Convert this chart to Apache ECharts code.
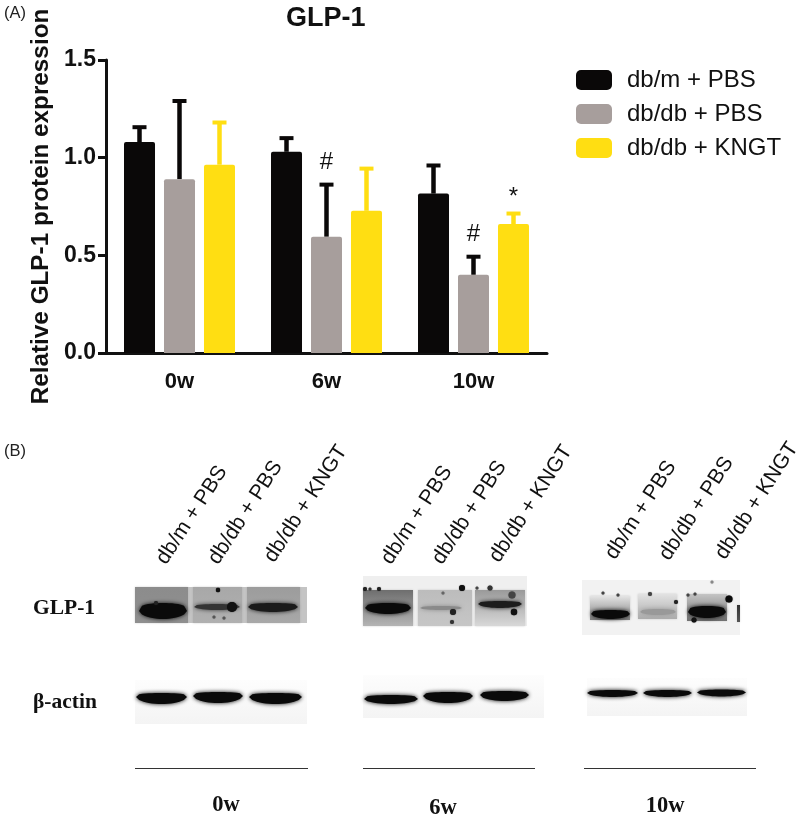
<!DOCTYPE html>
<html>
<head>
<meta charset="utf-8">
<title>GLP-1</title>
<script src="https://cdn.jsdelivr.net/npm/echarts@6/dist/echarts.min.js"></script>
<style>
  html, body { margin: 0; background: #fff; }
  #chart { width: 800px; height: 821px; }
</style>
</head>
<body>
<div id="chart"></div>
<script>
const weeks = ['0w', '6w', '10w']
const groupNames = ['db/m + PBS', 'db/db + PBS', 'db/db + KNGT']
const yTicks = [0, 0.5, 1, 1.5]

const mPbs = [1.08, 1.03, 0.816]
const dbPbs = [0.89, 0.595, 0.40]
const dbKngt = [0.964, 0.728, 0.66]

const mPbsTop = [1.156, 1.10, 0.96]
const dbPbsTop = [1.29, 0.862, 0.493]
const dbKngtTop = [1.18, 0.944, 0.714]

const mPbsMark = ['', '', '']
const dbPbsMark = ['', '#', '#']
const dbKngtMark = ['', '', '*']

const blotRows = ['GLP-1', 'β-actin']

const BLACK = '#0a0808'
const GRAY = '#a79e9c'
const YELLOW = '#ffde12'
const SANS = '"Liberation Sans", Arial, sans-serif'
const SERIF = '"Liberation Serif", "Times New Roman", serif'

// 柱子之间的像素偏移
const BAR_STEP = 40

function barSeries(name, values, color) {
  return {
    name: name,
    type: 'bar',
    data: values,
    barWidth: 31,
    barGap: '29%',
    itemStyle: { color: color, borderRadius: [2, 2, 0, 0] }
  }
}

const barsOf = [mPbs, dbPbs, dbKngt]

function errorSeries(groupIndex, values, color, marks) {
  return {
    type: 'custom',
    data: values.map((v, i) => [i, v]),
    clip: false,
    z: 1,
    renderItem(params, api) {
      const p = api.coord([api.value(0), api.value(1)])
      const x = p[0] + (groupIndex - 1) * BAR_STEP
      const base = api.coord([api.value(0), barsOf[groupIndex][params.dataIndex]])[1]
      const children = [
        { type: 'line', shape: { x1: x, y1: base, x2: x, y2: p[1] }, style: { stroke: color, lineWidth: 4.5 } },
        { type: 'line', shape: { x1: x - 7, y1: p[1], x2: x + 7, y2: p[1] }, style: { stroke: color, lineWidth: 4 } }
      ]
      const mark = marks[params.dataIndex]
      if (mark) {
        children.push({
          type: 'text',
          style: {
            text: mark, x: x, y: p[1] - (mark === '#' ? 22 : 16), fill: '#111',
            font: '24px ' + SANS, textAlign: 'center', textVerticalAlign: 'middle'
          }
        })
      }
      return { type: 'group', children: children }
    }
  }
}

// 下半部分: 印迹图，按面板摆放
const blotPanels = [
  {
    week: '0w', weekX: 226, weekY: 805, lineX: [135, 308],
    labelAt: [[170, 568], [222, 568], [278, 566]],
    glp: {
      back: [135, 587, 172, 36, '#c4c4c4'],
      lanes: [
        [135, 188, 587, 623, '#8c8c8c', '#8f8f8f'],
        [193, 242, 587, 623, '#a8a8a8', '#b0b0b0'],
        [247, 300, 587, 623, '#9c9c9c', '#a8a8a8']
      ],
      bands: [[139, 187, 611, 8, 8, '#0a0a0a'], [194, 240, 607, 3, 3, '#333'], [248, 298, 607, 4, 5, '#1a1a1a']],
      dots: [[218, 590, 2.2, '#111'], [232, 607, 5, '#111'], [156, 603, 2, '#222'], [214, 617, 1.5, '#555'], [224, 618, 1.5, '#555']]
    },
    actin: {
      back: [135, 680, 172, 44],
      bands: [[136, 187, 697, 4, 7], [193, 243, 696, 4, 7], [249, 302, 697, 4, 7]]
    }
  },
  {
    week: '6w', weekX: 443, weekY: 808, lineX: [363, 535],
    labelAt: [[395, 568], [446, 568], [503, 566]],
    glp: {
      back: [363, 576, 164, 50, '#efefef'],
      lanes: [
        [363, 413, 590, 626, '#6e6e6e', '#b4b4b4'],
        [418, 472, 590, 626, '#bcbcbc', '#c6c6c6'],
        [475, 525, 590, 626, '#9a9a9a', '#d8d8d8']
      ],
      bands: [[365, 411, 608, 5, 6, '#0a0a0a'], [420, 462, 608, 2, 2, '#8a8a8a'], [478, 522, 604, 3, 4, '#1c1c1c']],
      dots: [
        [365, 589, 2, '#222'], [370, 589, 1.5, '#333'], [379, 589, 2, '#222'], [443, 593, 1.5, '#666'],
        [462, 588, 3, '#111'], [453, 612, 3, '#222'], [452, 622, 2, '#333'], [490, 588, 2.5, '#333'],
        [477, 588, 1.5, '#444'], [514, 612, 3.2, '#111'], [512, 595, 3.5, '#444']
      ]
    },
    actin: {
      back: [363, 675, 181, 43],
      bands: [[364, 418, 699, 4, 5], [423, 473, 696, 4, 7], [480, 529, 695, 4, 6]]
    }
  },
  {
    week: '10w', weekX: 665, weekY: 806, lineX: [584, 756],
    labelAt: [[619, 563], [673, 564], [729, 563]],
    glp: {
      back: [582, 580, 158, 55, '#f2f2f2'],
      lanes: [
        [590, 630, 596, 620, '#e4e4e4', '#808080'],
        [638, 677, 594, 619, '#e2e2e2', '#acacac'],
        [687, 727, 594, 621, '#c4c4c4', '#707070'],
        [737, 740, 605, 622, '#333', '#555']
      ],
      bands: [[591, 630, 614, 4, 5, '#0a0a0a'], [640, 676, 612, 3, 3, '#999'], [688, 726, 612, 6, 6, '#0a0a0a']],
      dots: [
        [603, 593, 1.5, '#444'], [618, 595, 1.5, '#444'], [650, 594, 2, '#444'], [676, 602, 2, '#222'],
        [688, 595, 1.5, '#444'], [695, 594, 1.5, '#444'], [729, 599, 3.5, '#0a0a0a'], [694, 620, 2.5, '#111'],
        [712, 582, 1.5, '#888']
      ]
    },
    actin: {
      back: [587, 678, 160, 38],
      bands: [[587, 638, 693, 3, 4], [643, 692, 693, 3, 4], [697, 746, 692.5, 3, 4]]
    }
  }
]

// 条带: 中间厚两头尖，上下厚度分开
function bandShape(x0, x1, yc, hTop, hBot, fill) {
  const points = []
  const n = 16
  for (let i = 0; i <= n; i++) {
    const t = i / n
    points.push([x0 + (x1 - x0) * t, yc - hTop * Math.pow(Math.sin(Math.PI * t), 0.25)])
  }
  for (let i = n - 1; i > 0; i--) {
    const t = i / n
    points.push([x0 + (x1 - x0) * t, yc + hBot * Math.pow(Math.sin(Math.PI * t), 0.5)])
  }
  return {
    type: 'polygon', silent: true,
    shape: { points: points },
    style: { fill: fill, shadowBlur: 4, shadowColor: fill }
  }
}

function vGradient(top, bottom) {
  return {
    type: 'linear', x: 0, y: 0, x2: 0, y2: 1,
    colorStops: [{ offset: 0, color: top }, { offset: 1, color: bottom }]
  }
}

function blotGraphics() {
  const out = []
  blotPanels.forEach((panel) => {
    const g = panel.glp
    out.push({
      type: 'rect', silent: true,
      shape: { x: g.back[0], y: g.back[1], width: g.back[2], height: g.back[3] },
      style: { fill: g.back[4] }
    })
    g.lanes.forEach((l) => {
      out.push({
        type: 'rect', silent: true,
        shape: { x: l[0], y: l[2], width: l[1] - l[0], height: l[3] - l[2] },
        style: { fill: vGradient(l[4], l[5]), shadowBlur: 2, shadowColor: 'rgba(140,140,140,0.4)' }
      })
    })
    g.bands.forEach((b) => out.push(bandShape(b[0], b[1], b[2], b[3], b[4], b[5])))
    g.dots.forEach((d) => {
      out.push({
        type: 'circle', silent: true,
        shape: { cx: d[0], cy: d[1], r: d[2] },
        style: { fill: d[3], shadowBlur: 1, shadowColor: d[3] }
      })
    })
    // β-actin
    const a = panel.actin
    out.push({
      type: 'rect', silent: true,
      shape: { x: a.back[0], y: a.back[1], width: a.back[2], height: a.back[3] },
      style: { fill: vGradient('#fdfdfd', '#f4f4f4') }
    })
    a.bands.forEach((b) => out.push(bandShape(b[0], b[1], b[2], b[3], b[4], '#0a0a0a')))
    // 分隔线和时间
    out.push({
      type: 'line', silent: true,
      shape: { x1: panel.lineX[0], y1: 768.5, x2: panel.lineX[1], y2: 768.5 },
      style: { stroke: '#333', lineWidth: 1 }
    })
    out.push({
      type: 'text', silent: true, x: panel.weekX, y: panel.weekY,
      style: {
        text: panel.week, fill: '#111', font: 'bold 22.5px ' + SERIF,
        textAlign: 'center', textVerticalAlign: 'middle'
      }
    })
    // 斜标签
    groupNames.forEach((name, i) => {
      out.push({
        type: 'text', silent: true,
        x: panel.labelAt[i][0], y: panel.labelAt[i][1], rotation: 57 * Math.PI / 180,
        style: {
          text: name, fill: '#111', font: '21px ' + SANS,
          textAlign: 'left', textVerticalAlign: 'bottom'
        }
      })
    })
  })
  blotRows.forEach((name, i) => {
    out.push({
      type: 'text', silent: true, x: 33, y: i === 0 ? 608 : 702,
      style: {
        text: name, fill: '#111', font: 'bold 21.5px ' + SERIF,
        textAlign: 'left', textVerticalAlign: 'middle'
      }
    })
  })
  ;[['(A)', 13], ['(B)', 451]].forEach((t) => {
    out.push({
      type: 'text', silent: true, x: 4, y: t[1],
      style: {
        text: t[0], fill: '#222', font: '16.5px ' + SANS,
        textAlign: 'left', textVerticalAlign: 'middle'
      }
    })
  })
  return out
}

const chart = echarts.init(document.getElementById('chart'), null, { renderer: 'canvas' })

const option = {
  animation: false,
  backgroundColor: '#fff',
  title: {
    text: 'GLP-1',
    left: 281,
    top: 0,
    textStyle: { fontFamily: SANS, fontWeight: 'bold', fontSize: 27, color: '#111' }
  },
  legend: {
    orient: 'vertical',
    left: 571,
    top: 63,
    itemWidth: 36,
    itemHeight: 20,
    itemGap: 10,
    icon: 'roundRect',
    data: groupNames,
    textStyle: { fontFamily: SANS, fontSize: 24, color: '#111', padding: [0, 0, 0, 10] }
  },
  grid: { left: 106, top: 60, width: 441, height: 293 },
  xAxis: {
    type: 'category',
    data: weeks,
    axisTick: { alignWithLabel: true, length: 8, lineStyle: { width: 3, color: '#111' } },
    axisLine: { lineStyle: { width: 3, color: '#111' } },
    axisLabel: { fontFamily: SANS, fontWeight: 'bold', fontSize: 22, color: '#111', margin: 18 }
  },
  yAxis: {
    type: 'value',
    min: yTicks[0],
    max: yTicks[yTicks.length - 1],
    interval: 0.5,
    name: 'Relative GLP-1 protein expression',
    nameLocation: 'middle',
    nameGap: 45,
    nameTextStyle: { fontFamily: SANS, fontWeight: 'bold', fontSize: 24.3, color: '#111' },
    splitLine: { show: false },
    axisLine: { show: true, lineStyle: { width: 3, color: '#111' } },
    axisTick: { show: true, length: 8, lineStyle: { width: 3, color: '#111' } },
    axisLabel: {
      fontFamily: SANS, fontWeight: 'bold', fontSize: 23, color: '#111', margin: 10,
      formatter: (v) => v.toFixed(1)
    }
  },
  series: [
    barSeries(groupNames[0], mPbs, BLACK),
    barSeries(groupNames[1], dbPbs, GRAY),
    barSeries(groupNames[2], dbKngt, YELLOW),
    errorSeries(0, mPbsTop, BLACK, mPbsMark),
    errorSeries(1, dbPbsTop, BLACK, dbPbsMark),
    errorSeries(2, dbKngtTop, YELLOW, dbKngtMark)
  ],
  graphic: blotGraphics()
}

chart.setOption(option)
</script>
</body>
</html>
